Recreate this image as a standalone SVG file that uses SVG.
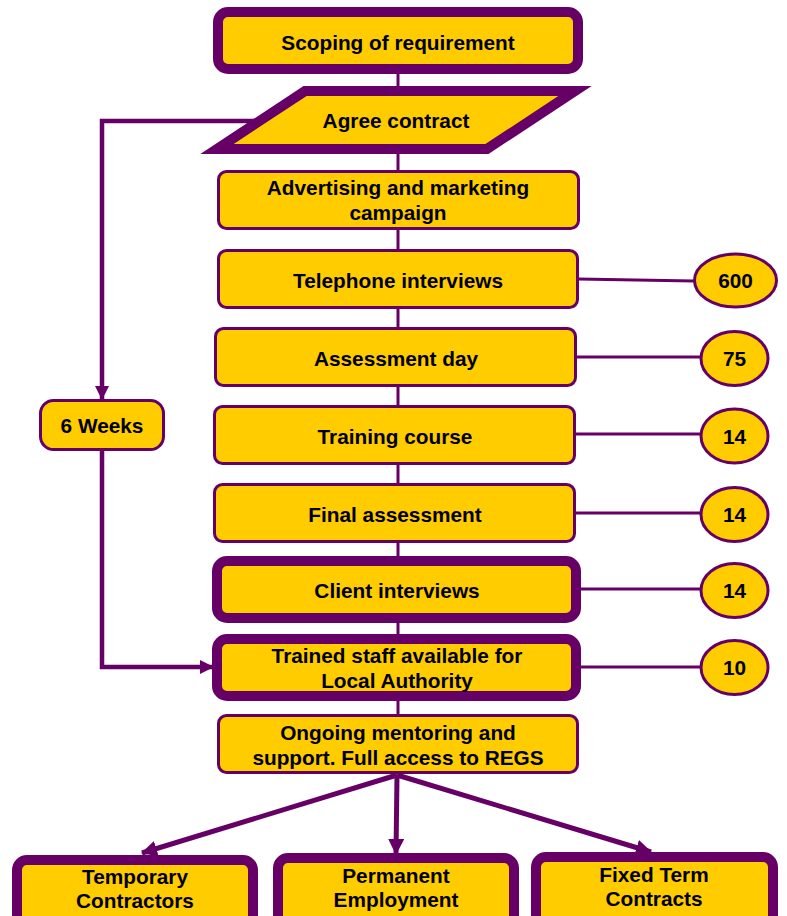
<svg xmlns="http://www.w3.org/2000/svg" width="787" height="916" viewBox="0 0 787 916">
<style>
.n{fill:#FFCC00;stroke:#660066;stroke-width:3}
.k{fill:#FFCC00;stroke:#660066;stroke-width:10}
.t{font-family:"Liberation Sans",Arial,sans-serif;font-weight:bold;font-size:20.8px;fill:#000;text-anchor:middle}
.c{fill:none;stroke:#660066;stroke-width:3}
.w{fill:none;stroke:#660066;stroke-width:4.5}
.b{fill:none;stroke:#660066;stroke-width:5}
</style>
<defs>
<marker id="ah" viewBox="0 0 14 14" refX="13" refY="7" markerWidth="14" markerHeight="14" markerUnits="userSpaceOnUse" orient="auto">
<path d="M0,0 L14,7 L0,14 Z" fill="#660066"/>
</marker>
<marker id="ahb" viewBox="0 0 16 16" refX="15" refY="8" markerWidth="16" markerHeight="16" markerUnits="userSpaceOnUse" orient="auto">
<path d="M0,0 L16,8 L0,16 Z" fill="#660066"/>
</marker>
</defs>
<rect width="787" height="916" fill="#fff"/>
<g id="connectors">
<line class="c" x1="398" y1="69" x2="398" y2="91"/>
<line class="c" x1="398" y1="149" x2="398" y2="172"/>
<line class="c" x1="398" y1="229" x2="398" y2="251"/>
<line class="c" x1="398" y1="307" x2="398" y2="329"/>
<line class="c" x1="398" y1="385" x2="398" y2="407"/>
<line class="c" x1="398" y1="463" x2="398" y2="485"/>
<line class="c" x1="398" y1="541" x2="398" y2="561"/>
<line class="c" x1="398" y1="618" x2="398" y2="639"/>
<line class="c" x1="398" y1="696" x2="398" y2="716"/>
<polyline class="w" points="262,121 102,121 102,399" marker-end="url(#ah)"/>
<polyline class="w" points="102,451 102,667 213,667" marker-end="url(#ah)"/>
<line class="c" x1="578" y1="279" x2="694" y2="281"/>
<line class="c" x1="576" y1="357" x2="701" y2="357"/>
<line class="c" x1="575" y1="434" x2="701" y2="434"/>
<line class="c" x1="575" y1="513" x2="701" y2="513"/>
<line class="c" x1="581" y1="589" x2="701" y2="589"/>
<line class="c" x1="581" y1="667" x2="701" y2="667"/>
<line class="b" x1="397" y1="775" x2="142" y2="853" marker-end="url(#ahb)"/>
<line class="b" x1="397" y1="775" x2="396" y2="854" marker-end="url(#ahb)"/>
<line class="b" x1="397" y1="775" x2="651" y2="852" marker-end="url(#ahb)"/>
</g>
<g id="n-scoping">
<rect class="k" x="218" y="12" width="360" height="57" rx="10"/>
<text class="t" x="398" y="50">Scoping of requirement</text>
</g>
<g id="n-agree">
<polygon class="k" points="305,91 575,91 487,149 217,149"/>
<text class="t" x="396" y="128">Agree contract</text>
</g>
<g id="n-advertising">
<rect class="n" x="218.5" y="171.5" width="360" height="57" rx="8"/>
<text class="t" x="398" y="195">Advertising and marketing</text>
<text class="t" x="398" y="220">campaign</text>
</g>
<g id="n-telephone">
<rect class="n" x="218.5" y="250.5" width="359" height="57" rx="8"/>
<text class="t" x="398" y="288">Telephone interviews</text>
</g>
<g id="n-assessment">
<rect class="n" x="215.5" y="328.5" width="360" height="57" rx="8"/>
<text class="t" x="396" y="366">Assessment day</text>
</g>
<g id="n-training">
<rect class="n" x="214.5" y="406.5" width="360" height="57" rx="8"/>
<text class="t" x="395" y="444">Training course</text>
</g>
<g id="n-final">
<rect class="n" x="214.5" y="484.5" width="360" height="57" rx="8"/>
<text class="t" x="395" y="522">Final assessment</text>
</g>
<g id="n-client">
<rect class="k" x="217" y="561" width="359" height="57" rx="10"/>
<text class="t" x="397" y="598">Client interviews</text>
</g>
<g id="n-trained">
<rect class="k" x="217" y="639" width="359" height="57" rx="10"/>
<text class="t" x="397" y="663">Trained staff available for</text>
<text class="t" x="397" y="688">Local Authority</text>
</g>
<g id="n-ongoing">
<rect class="n" x="218.5" y="715.5" width="359" height="57" rx="8"/>
<text class="t" x="398" y="740">Ongoing mentoring and</text>
<text class="t" x="398" y="765">support. Full access to REGS</text>
</g>
<g id="n-6weeks">
<rect class="n" x="40.5" y="400.5" width="123" height="49" rx="13"/>
<text class="t" x="102" y="433">6 Weeks</text>
</g>
<g id="n-600">
<ellipse class="n" cx="735.5" cy="280.5" rx="41" ry="26.5"/>
<text class="t" x="735.5" y="288">600</text>
</g>
<g id="n-75">
<ellipse class="n" cx="734.5" cy="358.5" rx="33.5" ry="27"/>
<text class="t" x="734.5" y="366">75</text>
</g>
<g id="n-14a">
<ellipse class="n" cx="734.5" cy="436" rx="33.5" ry="27"/>
<text class="t" x="734.5" y="443.5">14</text>
</g>
<g id="n-14b">
<ellipse class="n" cx="734.5" cy="514.5" rx="33.5" ry="27"/>
<text class="t" x="734.5" y="522">14</text>
</g>
<g id="n-14c">
<ellipse class="n" cx="734.5" cy="590.5" rx="33.5" ry="27"/>
<text class="t" x="734.5" y="598">14</text>
</g>
<g id="n-10">
<ellipse class="n" cx="734.5" cy="667.5" rx="33.5" ry="27"/>
<text class="t" x="734.5" y="675">10</text>
</g>
<g id="n-temporary">
<rect class="k" x="17" y="860" width="236" height="70" rx="10"/>
<text class="t" x="135" y="884">Temporary</text>
<text class="t" x="135" y="908">Contractors</text>
</g>
<g id="n-permanent">
<rect class="k" x="278" y="858" width="236" height="70" rx="10"/>
<text class="t" x="396" y="883">Permanent</text>
<text class="t" x="396" y="907">Employment</text>
</g>
<g id="n-fixed">
<rect class="k" x="536" y="857" width="237" height="70" rx="10"/>
<text class="t" x="654" y="882">Fixed Term</text>
<text class="t" x="654" y="906">Contracts</text>
</g>
</svg>
